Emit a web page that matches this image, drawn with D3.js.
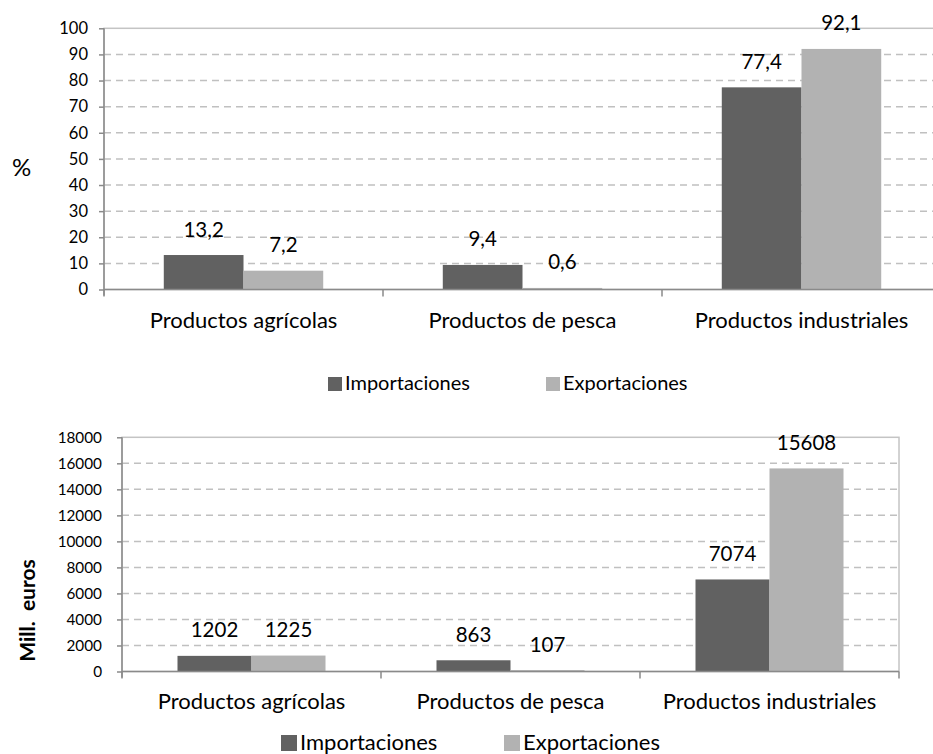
<!DOCTYPE html>
<html><head><meta charset="utf-8">
<script src="https://cdn.jsdelivr.net/npm/d3@7"></script>
<style>
body{margin:0;background:#fff}
svg{display:block}
text{font-family:Lato,"Open Sans",sans-serif;fill:#000}
</style>
</head><body>
<svg id="c" width="933" height="754"></svg>
<script>
const categories = ["Productos agrícolas", "Productos de pesca", "Productos industriales"];
const seriesNames = ["Importaciones", "Exportaciones"];
const pctImport = [13.2, 9.4, 77.4];
const pctExport = [7.2, 0.6, 92.1];
const eurImport = [1202, 863, 7074];
const eurExport = [1225, 107, 15608];
const pctTicks = [0, 10, 20, 30, 40, 50, 60, 70, 80, 90, 100];
const eurTicks = [0, 2000, 4000, 6000, 8000, 10000, 12000, 14000, 16000, 18000];
const colors = ["#616161", "#b2b2b2"];

const esFmt = d3.formatLocale({decimal: ",", thousands: "", grouping: [3], currency: ["", "€"]});
const fmtPct = esFmt.format(".1f");
const fmtEur = esFmt.format("d");

const svg = d3.select("#c");

function drawChart(cfg) {
  const g = svg.append("g");
  const x0 = d3.scaleBand().domain(categories).range([cfg.left, cfg.right]).padding(0);
  const x1 = d3.scaleBand().domain(seriesNames).range([0, x0.bandwidth()]).paddingInner(0).paddingOuter(0.75);
  const y = d3.scaleLinear().domain([0, cfg.max]).range([cfg.bottom, cfg.top]);

  // gridlines
  g.append("g").selectAll("line").data(cfg.ticks.filter(t => t > 0 && t < cfg.max)).join("line")
    .attr("x1", cfg.left).attr("x2", cfg.right)
    .attr("y1", d => y(d)).attr("y2", d => y(d))
    .attr("stroke", "#c0c0c0").attr("stroke-width", 1.5).attr("stroke-dasharray", "7,5");
  // plot border
  g.append("rect").attr("x", cfg.left).attr("y", y(cfg.max))
    .attr("width", cfg.right - cfg.left).attr("height", y(0) - y(cfg.max))
    .attr("fill", "none").attr("stroke", "#c4c4c4").attr("stroke-width", 1.5);

  // bars
  const rows = categories.map((c, i) => ({c, vals: [cfg.imp[i], cfg.exp[i]]}));
  const grp = g.append("g").selectAll("g").data(rows).join("g")
    .attr("transform", d => `translate(${x0(d.c)},0)`);
  grp.selectAll("rect").data(d => d.vals.map((v, k) => ({k, v}))).join("rect")
    .attr("x", d => x1(seriesNames[d.k])).attr("width", x1.bandwidth())
    .attr("y", d => y(d.v)).attr("height", d => y(0) - y(d.v))
    .attr("fill", d => colors[d.k]);

  // y axis
  const ya = d3.axisLeft(y).tickValues(cfg.ticks).tickSize(5).tickPadding(cfg.tickPad)
    .tickFormat(d3.format("d"));
  const yg = g.append("g").attr("transform", `translate(${cfg.left},0)`).call(ya);
  yg.select(".domain").remove();
  yg.selectAll(".tick line").attr("stroke", "#8a8a8a").attr("stroke-width", 1.5);
  yg.selectAll(".tick text").attr("font-size", cfg.tickFont).attr("font-family", "Lato").attr("fill", "#000");
  g.append("line").attr("x1", cfg.left).attr("x2", cfg.left)
    .attr("y1", y(cfg.max)).attr("y2", y(0) + 6)
    .attr("stroke", "#8a8a8a").attr("stroke-width", 1.5);

  // x axis
  g.append("line").attr("x1", cfg.left).attr("x2", cfg.right)
    .attr("y1", y(0)).attr("y2", y(0)).attr("stroke", "#8a8a8a").attr("stroke-width", 1.5);
  const bounds = categories.map(c => x0(c)).concat([x0(categories[2]) + x0.bandwidth()]);
  g.append("g").selectAll("line").data(bounds).join("line")
    .attr("x1", d => d).attr("x2", d => d).attr("y1", y(0)).attr("y2", y(0) + 7)
    .attr("stroke", "#8a8a8a").attr("stroke-width", 1.5);
  g.append("g").selectAll("text").data(categories).join("text")
    .attr("x", d => x0(d) + x0.bandwidth() / 2).attr("y", y(0) + cfg.catOff)
    .attr("text-anchor", "middle").attr("font-size", cfg.catFont).text(d => d);

  // data labels
  grp.selectAll("text").data(d => d.vals.map((v, k) => ({k, v}))).join("text")
    .attr("x", d => x1(seriesNames[d.k]) + x1.bandwidth() / 2)
    .attr("y", d => y(d.v) - 18.5)
    .attr("text-anchor", "middle").attr("font-size", cfg.labFont)
    .text(d => cfg.fmt(d.v));

  // legend
  const lg = g.append("g");
  cfg.legend.forEach((p, k) => {
    lg.append("rect").attr("x", p.sx).attr("y", p.sy).attr("width", p.ss).attr("height", p.ss).attr("fill", colors[k]);
    lg.append("text").attr("x", p.tx).attr("y", p.ty).attr("font-size", cfg.legFont).text(seriesNames[k]);
  });
  return g;
}

// top chart
const gTop = drawChart({
  left: 104, right: 941, top: 28.3, bottom: 289.5, max: 100, ticks: pctTicks,
  imp: pctImport, exp: pctExport, fmt: fmtPct,
  tickPad: 11, tickFont: "16.5px", catFont: "22px", catOff: 38.5, labFont: "20.5px", legFont: "20px",
  legend: [{sx: 328, sy: 377, ss: 14, tx: 345, ty: 390}, {sx: 546, sy: 377, ss: 14, tx: 563, ty: 390}]
});
gTop.append("text").attr("x", 21.7).attr("y", 176).attr("text-anchor", "middle")
  .attr("font-size", "24px").text("%");

// bottom chart
const gBot = drawChart({
  left: 122, right: 899, top: 437.3, bottom: 671.5, max: 18000, ticks: eurTicks,
  imp: eurImport, exp: eurExport, fmt: fmtEur,
  tickPad: 15, tickFont: "15.3px", catFont: "22px", catOff: 37.5, labFont: "20.5px", legFont: "22px",
  legend: [{sx: 281, sy: 735, ss: 16, tx: 300, ty: 750}, {sx: 504, sy: 735, ss: 16, tx: 523, ty: 750}]
});
gBot.append("text").attr("transform", "translate(35,610.5) rotate(-90)").attr("text-anchor", "middle")
  .attr("font-size", "21px").attr("font-weight", "bold").text("Mill.  euros").style("white-space", "pre");
</script>
</body></html>
